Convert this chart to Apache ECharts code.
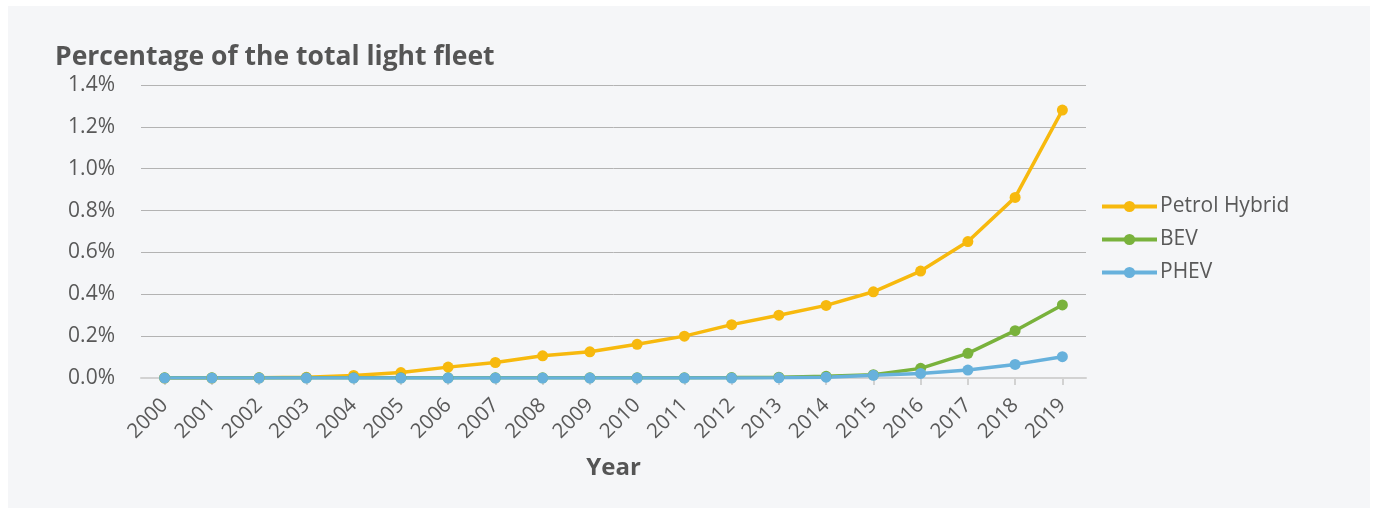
<!DOCTYPE html>
<html>
<head>
<meta charset="utf-8">
<script src="https://cdn.jsdelivr.net/npm/echarts@6/dist/echarts.min.js"></script>
<style>
  html, body { margin: 0; padding: 0; background: #ffffff; }
  #chart { width: 1375px; height: 509px; }
</style>
</head>
<body>
<div id="chart"></div>
<script>
// Share of the total light fleet by powertrain, 2000–2019 (percent)
const years = ['2000','2001','2002','2003','2004','2005','2006','2007','2008','2009',
               '2010','2011','2012','2013','2014','2015','2016','2017','2018','2019'];
const petrolHybrid = [0, 0, 0.001, 0.003, 0.012, 0.026, 0.052, 0.074, 0.106, 0.125,
                      0.161, 0.200, 0.255, 0.300, 0.347, 0.412, 0.511, 0.652, 0.863, 1.280];
const bev = [0.001, 0.001, 0.001, 0.001, 0.001, 0.001, 0.001, 0.001, 0.001, 0.001,
             0.001, 0.001, 0.002, 0.004, 0.008, 0.016, 0.046, 0.118, 0.226, 0.349];
const phev = [0, 0, 0, 0, 0, 0, 0, 0, 0, 0,
              0, 0, 0, 0.001, 0.004, 0.013, 0.022, 0.038, 0.065, 0.102];
const yTicks = { min: 0, max: 1.4, step: 0.2 };

const seriesDefs = [
  { name: 'Petrol Hybrid', data: petrolHybrid, color: '#f7b90e' },
  { name: 'BEV', data: bev, color: '#79b23c' },
  { name: 'PHEV', data: phev, color: '#67b1dc' }
];

const font = '"Open Sans", "Noto Sans", sans-serif';
const textColor = '#595959';
const chart = echarts.init(document.getElementById('chart'), null, { renderer: 'canvas' });

chart.setOption({
  backgroundColor: '#ffffff',
  animation: false,
  graphic: [{
    type: 'rect',
    left: 8, top: 6,
    shape: { width: 1362, height: 502 },
    style: { fill: '#f5f6f8' },
    z: -10
  }],
  title: {
    text: 'Percentage of the total light fleet',
    left: 50, top: 39,
    textStyle: { fontFamily: font, fontSize: 26.5, fontWeight: 'bold', color: '#555555' }
  },
  legend: {
    orient: 'vertical',
    left: 1095, top: 191,
    itemWidth: 55, itemHeight: 14, itemGap: 12,
    lineStyle: { width: 4 },
    textStyle: { fontFamily: font, fontSize: 21, color: textColor, padding: [0, 0, 0, -2] },
    data: seriesDefs.map(s => s.name)
  },
  grid: { left: 141, right: 289, top: 85, bottom: 131, containLabel: false },
  xAxis: {
    type: 'category',
    data: years,
    boundaryGap: true,
    name: 'Year',
    nameLocation: 'middle',
    nameGap: 78,
    nameTextStyle: { fontFamily: font, fontSize: 24, fontWeight: 'bold', color: '#555555' },
    axisLine: { lineStyle: { color: '#d2d2d2', width: 2 } },
    axisTick: { show: true, alignWithLabel: true, length: 7, lineStyle: { color: '#d2d2d2', width: 2 } },
    axisLabel: { rotate: 45, fontFamily: font, fontSize: 20.5, color: textColor, margin: 24, interval: 0 },
    splitLine: { show: false }
  },
  yAxis: {
    type: 'value',
    min: yTicks.min, max: yTicks.max, interval: yTicks.step,
    axisLine: { show: false },
    axisTick: { show: false },
    axisLabel: {
      fontFamily: font, fontSize: 21, color: textColor, margin: 26,
      formatter: v => v.toFixed(1) + '%'
    },
    splitLine: { lineStyle: { color: '#b3b3b3', width: 1 } }
  },
  series: seriesDefs.map(s => ({
    name: s.name,
    type: 'line',
    data: s.data,
    symbol: 'circle',
    symbolSize: 11,
    lineStyle: { color: s.color, width: 3.5 },
    itemStyle: { color: s.color },
    emphasis: { disabled: true }
  }))
});
</script>
</body>
</html>
